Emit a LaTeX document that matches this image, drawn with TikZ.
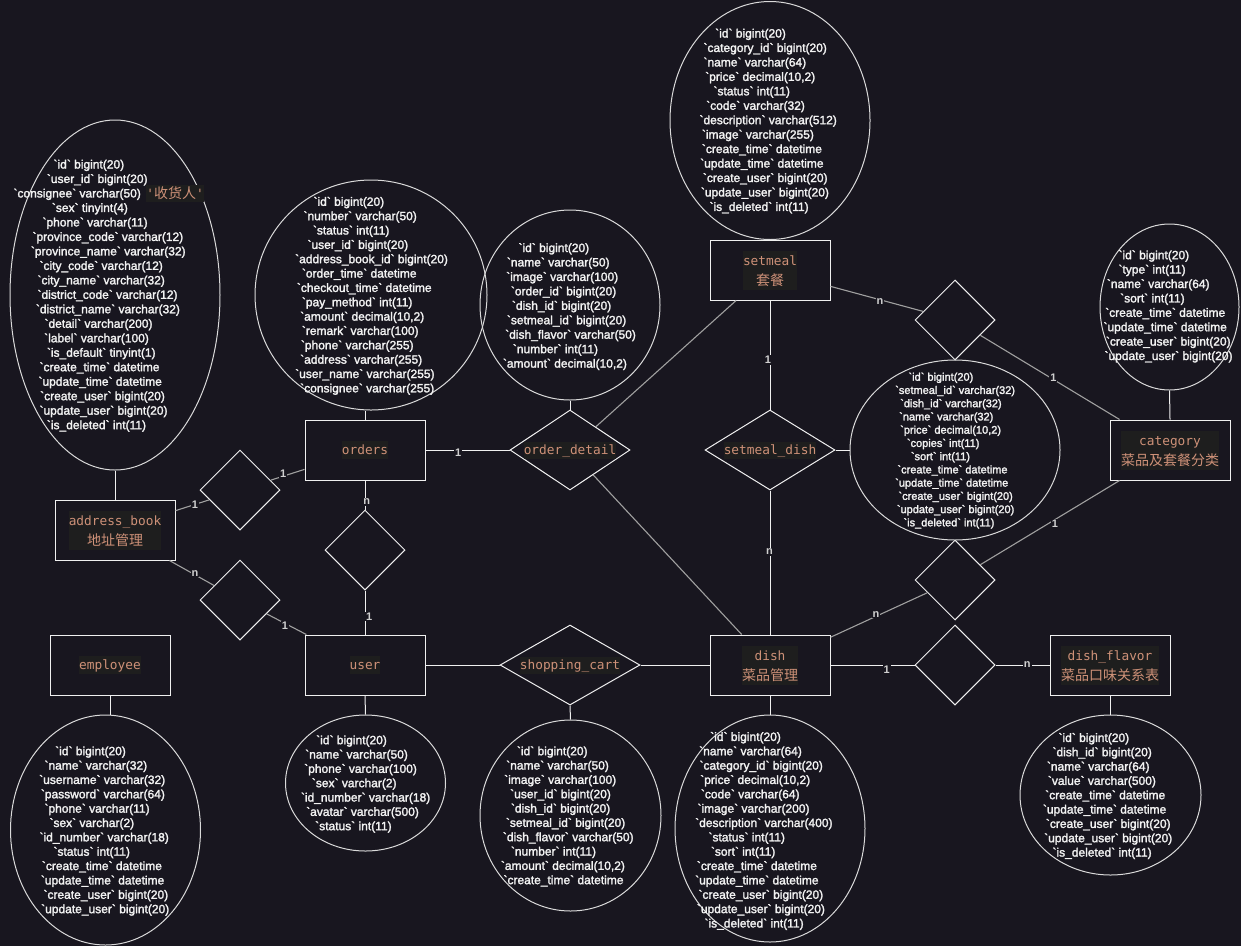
\documentclass[tikz,border=0pt]{standalone}
\usepackage{fontspec}
\newfontfamily\attrfont{Liberation Sans}[Ligatures=TeXOff,FakeBold=2]
\newfontfamily\entmono{DejaVu Sans Mono}[Ligatures=TeXOff]
\newfontfamily\cjkfont{Noto Sans CJK SC}
\newfontfamily\lblfont{Liberation Sans}
\usetikzlibrary{shapes.geometric,fit}
\definecolor{bgc}{HTML}{18161F}
\definecolor{hlc}{HTML}{1E1E1E}
\definecolor{entc}{HTML}{CE9178}
\definecolor{strokec}{HTML}{F0F0F0}
\definecolor{ellc}{HTML}{DADADA}
\definecolor{connc}{HTML}{A0A0A0}
\definecolor{txtc}{HTML}{F2F2F2}
\definecolor{lblc}{HTML}{D0D0D0}
\pgfdeclarelayer{bglayer}
\pgfdeclarelayer{hllayer}
\pgfsetlayers{bglayer,hllayer,main}
\def\attrsz{12}
\tikzset{
  entity/.style={draw=strokec, line width=1pt, rectangle, minimum width=120pt, minimum height=60pt, inner sep=0pt},
  rel/.style={draw=strokec, line width=1pt, diamond, inner sep=0pt, minimum width=80pt, minimum height=80pt},
  attrell/.style={draw=ellc, line width=1pt, ellipse, inner sep=0pt},
  entname/.style={text=entc, font=\entmono\fontsize{12.8}{15}\selectfont, inner sep=0pt, minimum height=19pt, text height=9.6pt, text depth=0.4pt},
  entcjk/.style={text=entc, font=\cjkfont\fontsize{14}{16}\selectfont, inner sep=0pt, minimum height=19pt, text height=12.3pt, text depth=1.7pt},
  hlbox/.style={fill=hlc, inner sep=0pt},
  attr/.style={text=txtc, font=\attrfont\fontsize{\attrsz}{\attrsz}\selectfont, inner sep=0pt, anchor=base west},
  conn/.style={draw=connc, line width=1.1pt},
  sconn/.style={draw=strokec, line width=1pt},
  card/.style={text=lblc, font=\lblfont\bfseries\fontsize{11}{12}\selectfont, fill=bgc, inner sep=1pt},
}
\newcount\attrrow
\newcommand\attrstart[3]{\gdef\attrname{#1}\gdef\attrbase{#2}\gdef\attrstep{#3}\global\attrrow=0\relax}
\newcommand\fld[2]{\node[attr] (\attrname-\number\attrrow) at (#1,{\attrbase+\attrstep*\number\attrrow}) {#2};\global\advance\attrrow by 1\relax}
\newcommand\enttwo[5]{%
  \node[entity] (#1) at (#2,#3) {};
  \node[entname] (#1-n) at (#2,#3-9) {#4};
  \node[entcjk] (#1-c) at (#2,#3+10) {#5};
  \begin{pgfonlayer}{hllayer}\node[hlbox,fit=(#1-n)(#1-c)] (#1-h) {};\end{pgfonlayer}}
\newcommand\entone[4]{%
  \node[entity] (#1) at (#2,#3) {};
  \node[entname, fill=hlc, minimum height=18pt] (#1-n) at (#2,#3) {#4};}
\begin{document}
\begin{tikzpicture}[x=1pt,y=-1pt]
\useasboundingbox (0,0) rectangle (1241,946);
\begin{pgfonlayer}{bglayer}
\fill[bgc] (0,0) rectangle (1241,946);
\end{pgfonlayer}

% ---------- entities ----------
\enttwo{ab}{115}{530}{address\_book}{地址管理}
\entone{orders}{365}{450}{orders}
\entone{employee}{110}{665}{employee}
\entone{user}{365}{665}{user}
\enttwo{dish}{770}{665}{dish}{菜品管理}
\enttwo{dishflavor}{1110}{665}{dish\_flavor}{菜品口味关系表}
\enttwo{setmeal}{770}{270}{setmeal}{套餐}
\enttwo{category}{1170}{450}{category}{菜品及套餐分类}

% ---------- relationships ----------
\node[rel] (dAO) at (240,490) {};
\node[rel] (dAU) at (240,600) {};
\node[rel] (dOU) at (365,550) {};
\node[rel] (dSC) at (955,320) {};
\node[rel] (dDC) at (955,580) {};
\node[rel] (dDF) at (955,665) {};
\node[rel, minimum width=120pt] (od) at (570,450) {};
\node[entname, fill=hlc, minimum height=17pt] (od-n) at (od) {order\_detail};
\node[rel, minimum width=130pt] (smd) at (770,450) {};
\node[entname, fill=hlc, minimum height=17pt] (smd-n) at (smd) {setmeal\_dish};
\node[rel, minimum width=140pt] (sc) at (570,665) {};
\node[entname, fill=hlc, minimum height=17pt] (sc-n) at (sc) {shopping\_cart};

% ---------- attribute ellipses ----------
\node[attrell, minimum width=210pt, minimum height=350pt] (abA) at (115,295) {};
\node[attrell, minimum width=232pt, minimum height=230pt] (ordA) at (371,295) {};
\node[attrell, minimum width=180pt, minimum height=190pt] (odA) at (570,305) {};
\node[attrell, minimum width=200pt, minimum height=238pt] (smA) at (770,120.5) {};
\node[attrell, minimum width=139pt, minimum height=166pt] (catA) at (1169.5,307) {};
\node[attrell, minimum width=210pt, minimum height=180pt] (smdA) at (955,450) {};
\node[attrell, minimum width=190pt, minimum height=230pt] (empA) at (105.5,830) {};
\node[attrell, minimum width=160pt, minimum height=136pt] (userA) at (365.5,783) {};
\node[attrell, minimum width=181pt, minimum height=191pt] (scA) at (570.5,815.5) {};
\node[attrell, minimum width=190pt, minimum height=227pt] (dishA) at (770,828.5) {};
\node[attrell, minimum width=181pt, minimum height=160pt] (dfA) at (1110.5,795) {};

% ---------- attribute texts ----------
\attrstart{abT}{168.5}{14.48}
\fld{53.3}{`id` bigint(20)}
\fld{46.7}{`user\_id` bigint(20)}
\fld{13.3}{`consignee` varchar(50)}
\fld{51.7}{`sex` tinyint(4)}
\fld{42.3}{`phone` varchar(11)}
\fld{32.3}{`province\_code` varchar(12)}
\fld{30.7}{`province\_name` varchar(32)}
\fld{39.3}{`city\_code` varchar(12)}
\fld{37.3}{`city\_name` varchar(32)}
\fld{37.3}{`district\_code` varchar(12)}
\fld{35.7}{`district\_name` varchar(32)}
\fld{44.3}{`detail` varchar(200)}
\fld{44}{`label` varchar(100)}
\fld{46.7}{`is\_default` tinyint(1)}
\fld{39.3}{`create\_time` datetime}
\fld{38.3}{`update\_time` datetime}
\fld{40}{`create\_user` bigint(20)}
\fld{39.3}{`update\_user` bigint(20)}
\fld{46.7}{`is\_deleted` int(11)}
\node[text=entc, fill=hlc, inner sep=0pt, minimum height=17pt] (abNote) at (175,193.5) {{\entmono\fontsize{12.8}{15}\selectfont '}{\cjkfont\fontsize{14}{16}\selectfont 收货人}{\entmono\fontsize{12.8}{15}\selectfont '}};

\attrstart{ordT}{205.8}{14.35}
\fld{313.3}{`id` bigint(20)}
\fld{303.3}{`number` varchar(50)}
\fld{312.7}{`status` int(11)}
\fld{307.3}{`user\_id` bigint(20)}
\fld{295}{`address\_book\_id` bigint(20)}
\fld{301.7}{`order\_time` datetime}
\fld{296.7}{`checkout\_time` datetime}
\fld{301.7}{`pay\_method` int(11)}
\fld{300}{`amount` decimal(10,2)}
\fld{301.7}{`remark` varchar(100)}
\fld{300.7}{`phone` varchar(255)}
\fld{300}{`address` varchar(255)}
\fld{295}{`user\_name` varchar(255)}
\fld{300}{`consignee` varchar(255)}

\attrstart{odT}{252}{14.45}
\fld{518.3}{`id` bigint(20)}
\fld{506.7}{`name` varchar(50)}
\fld{506}{`image` varchar(100)}
\fld{510.7}{`order\_id` bigint(20)}
\fld{511.7}{`dish\_id` bigint(20)}
\fld{506.7}{`setmeal\_id` bigint(20)}
\fld{505}{`dish\_flavor` varchar(50)}
\fld{512.7}{`number` int(11)}
\fld{502.7}{`amount` decimal(10,2)}

\attrstart{smT}{37.5}{14.45}
\fld{715}{`id` bigint(20)}
\fld{703.3}{`category\_id` bigint(20)}
\fld{703.3}{`name` varchar(64)}
\fld{705}{`price` decimal(10,2)}
\fld{713.3}{`status` int(11)}
\fld{706}{`code` varchar(32)}
\fld{699.3}{`description` varchar(512)}
\fld{701.7}{`image` varchar(255)}
\fld{701.7}{`create\_time` datetime}
\fld{700}{`update\_time` datetime}
\fld{702.7}{`create\_user` bigint(20)}
\fld{700.7}{`update\_user` bigint(20)}
\fld{709.3}{`is\_deleted` int(11)}

\attrstart{catT}{259.2}{14.4}
\fld{1118.3}{`id` bigint(20)}
\fld{1118.3}{`type` int(11)}
\fld{1106.7}{`name` varchar(64)}
\fld{1120}{`sort` int(11)}
\fld{1105}{`create\_time` datetime}
\fld{1103.3}{`update\_time` datetime}
\fld{1105.7}{`create\_user` bigint(20)}
\fld{1104.3}{`update\_user` bigint(20)}

\def\attrsz{11}
\attrstart{smdT}{380.7}{13.24}
\fld{908.3}{`id` bigint(20)}
\fld{895}{`setmeal\_id` varchar(32)}
\fld{900}{`dish\_id` varchar(32)}
\fld{899}{`name` varchar(32)}
\fld{900}{`price` decimal(10,2)}
\fld{906.7}{`copies` int(11)}
\fld{910.7}{`sort` int(11)}
\fld{897.3}{`create\_time` datetime}
\fld{895}{`update\_time` datetime}
\fld{898.3}{`create\_user` bigint(20)}
\fld{896.7}{`update\_user` bigint(20)}
\fld{903.3}{`is\_deleted` int(11)}
\def\attrsz{12}

\attrstart{empT}{755.2}{14.36}
\fld{55}{`id` bigint(20)}
\fld{44.3}{`name` varchar(32)}
\fld{39}{`username` varchar(32)}
\fld{40.7}{`password` varchar(64)}
\fld{44.3}{`phone` varchar(11)}
\fld{49.3}{`sex` varchar(2)}
\fld{39.3}{`id\_number` varchar(18)}
\fld{53.3}{`status` int(11)}
\fld{41.7}{`create\_time` datetime}
\fld{40.7}{`update\_time` datetime}
\fld{43.3}{`create\_user` bigint(20)}
\fld{41}{`update\_user` bigint(20)}

\attrstart{userT}{744.2}{14.33}
\fld{316}{`id` bigint(20)}
\fld{305}{`name` varchar(50)}
\fld{304}{`phone` varchar(100)}
\fld{311.7}{`sex` varchar(2)}
\fld{300.7}{`id\_number` varchar(18)}
\fld{306}{`avatar` varchar(500)}
\fld{315}{`status` int(11)}

\attrstart{scT}{755.2}{14.33}
\fld{516.7}{`id` bigint(20)}
\fld{506}{`name` varchar(50)}
\fld{504}{`image` varchar(100)}
\fld{510}{`user\_id` bigint(20)}
\fld{510.7}{`dish\_id` bigint(20)}
\fld{505.7}{`setmeal\_id` bigint(20)}
\fld{502.7}{`dish\_flavor` varchar(50)}
\fld{510.7}{`number` int(11)}
\fld{500.7}{`amount` decimal(10,2)}
\fld{503.3}{`create\_time` datetime}

\attrstart{dishT}{740.9}{14.35}
\fld{710}{`id` bigint(20)}
\fld{699}{`name` varchar(64)}
\fld{699.3}{`category\_id` bigint(20)}
\fld{700}{`price` decimal(10,2)}
\fld{700.7}{`code` varchar(64)}
\fld{697.3}{`image` varchar(200)}
\fld{695}{`description` varchar(400)}
\fld{708.3}{`status` int(11)}
\fld{710.7}{`sort` int(11)}
\fld{696.7}{`create\_time` datetime}
\fld{695}{`update\_time` datetime}
\fld{698.3}{`create\_user` bigint(20)}
\fld{696.7}{`update\_user` bigint(20)}
\fld{704.3}{`is\_deleted` int(11)}

\attrstart{dfT}{741.9}{14.33}
\fld{1058.3}{`id` bigint(20)}
\fld{1052.3}{`dish\_id` bigint(20)}
\fld{1046.7}{`name` varchar(64)}
\fld{1047.7}{`value` varchar(500)}
\fld{1045}{`create\_time` datetime}
\fld{1042.7}{`update\_time` datetime}
\fld{1045.7}{`create\_user` bigint(20)}
\fld{1044}{`update\_user` bigint(20)}
\fld{1052.3}{`is\_deleted` int(11)}

% ---------- attribute links ----------
\draw[sconn] (abA.south) -- (ab.north);
\draw[sconn] (orders.north) -- (orders.north |- ordA.south);
\draw[sconn] (od.north) -- (odA.south);
\draw[sconn] (catA.south) -- (category.north);
\draw[sconn] (smd.east) -- (smdA.west);
\draw[sconn] (dish.south) -- (dishA.north);
\draw[sconn] (sc.south) -- (scA.north);
\draw[sconn] (user.south) -- (userA.north);
\draw[sconn] (employee.south) -- (employee.south |- empA.north);
\draw[sconn] (dishflavor.south) -- (dishflavor.south |- dfA.north);

% ---------- relationship links ----------
\draw[conn] (ab) -- (dAO);
\draw[conn] (dAO) -- (orders);
\draw[conn] (ab) -- (dAU);
\draw[conn] (dAU) -- (user);
\draw[sconn] (orders.south) -- (dOU.north);
\draw[sconn] (dOU.south) -- (user.north);
\draw[sconn] (orders.east) -- (od.west);
\draw[conn] (od) -- (setmeal);
\draw[conn] (od) -- (dish);
\draw[sconn] (user.east) -- (sc.west);
\draw[sconn] (sc.east) -- (dish.west);
\draw[sconn] (setmeal.south) -- (smd.north);
\draw[sconn] (smd.south) -- (dish.north);
\draw[conn] (setmeal) -- (dSC);
\draw[conn] (dSC) -- (category);
\draw[conn] (dish) -- (dDC);
\draw[conn] (dDC) -- (category);
\draw[sconn] (dish.east) -- (dDF.west);
\draw[sconn] (dDF.east) -- (dishflavor.west);

% ---------- cardinalities ----------
\node[card] (k1) at (195,505) {1};
\node[card] (k2) at (283.3,473.3) {1};
\node[card] (k3) at (195,573.3) {n};
\node[card] (k4) at (285,626) {1};
\node[card] (k5) at (366.7,501.7) {n};
\node[card] (k6) at (369.3,616.7) {1};
\node[card] (k7) at (458.3,452.7) {1};
\node[card] (k8) at (768,360) {1};
\node[card] (k9) at (769.5,551.7) {n};
\node[card] (k10) at (880,301.7) {n};
\node[card] (k11) at (1053.3,377.7) {1};
\node[card] (k12) at (876,614.3) {n};
\node[card] (k13) at (1055,523.3) {1};
\node[card] (k14) at (886.7,670) {1};
\node[card] (k15) at (1027.3,665) {n};
\end{tikzpicture}
\end{document}
